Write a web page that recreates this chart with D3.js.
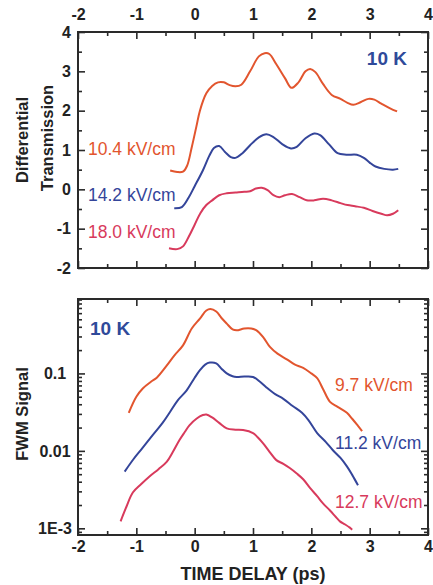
<!DOCTYPE html>
<html>
<head>
<meta charset="utf-8">
<script src="https://cdn.jsdelivr.net/npm/d3@7"></script>
<style>
  html, body { margin: 0; padding: 0; background: #fff; }
  svg { display: block; }
  text { font-family: "Liberation Sans", Arial, Helvetica, sans-serif; }
</style>
</head>
<body>
<script>
// ---------- data ----------
const xTicks = [-2, -1, 0, 1, 2, 3, 4];
const xTickLabels = ["-2", "-1", "0", "1", "2", "3", "4"];
const topYTicks = [-2, -1, 0, 1, 2, 3, 4];
const topYTickLabels = ["-2", "-1", "0", "1", "2", "3", "4"];
const logTicks = [0.001, 0.01, 0.1];
const logTickLabels = ["1E-3", "0.01", "0.1"];

const topLabels = ["10.4 kV/cm", "14.2 kV/cm", "18.0 kV/cm"];
const bottomLabels = ["9.7 kV/cm", "11.2 kV/cm", "12.7 kV/cm"];
const tempLabel = "10 K";

// Differential transmission (time ps, value)
const dt104 = [[-0.42,0.48],[-0.3,0.44],[-0.2,0.45],[-0.13,0.6],[-0.05,1.07],[0.03,1.6],[0.09,2.0],[0.2,2.44],[0.3,2.63],[0.4,2.72],[0.5,2.72],[0.6,2.65],[0.7,2.62],[0.8,2.66],[0.95,3.0],[1.1,3.38],[1.2,3.46],[1.28,3.44],[1.4,3.18],[1.55,2.82],[1.66,2.58],[1.78,2.72],[1.9,3.0],[1.98,3.06],[2.07,2.98],[2.2,2.68],[2.35,2.4],[2.5,2.3],[2.62,2.2],[2.72,2.15],[2.85,2.22],[2.98,2.3],[3.08,2.28],[3.2,2.18],[3.35,2.06],[3.47,1.98]];
const dt142 = [[-0.35,-0.48],[-0.22,-0.45],[-0.1,-0.2],[0.0,0.08],[0.14,0.48],[0.25,0.85],[0.33,1.05],[0.42,1.1],[0.52,0.95],[0.62,0.82],[0.7,0.8],[0.82,0.92],[0.95,1.12],[1.1,1.32],[1.23,1.4],[1.35,1.33],[1.5,1.15],[1.65,1.04],[1.75,1.08],[1.9,1.3],[2.05,1.42],[2.15,1.38],[2.3,1.15],[2.45,0.92],[2.6,0.88],[2.78,0.88],[2.9,0.8],[3.0,0.68],[3.1,0.58],[3.25,0.52],[3.4,0.5],[3.49,0.52]];
const dt180 = [[-0.44,-1.5],[-0.3,-1.52],[-0.2,-1.45],[-0.1,-1.2],[0.0,-0.9],[0.1,-0.6],[0.2,-0.4],[0.3,-0.28],[0.42,-0.15],[0.55,-0.1],[0.7,-0.08],[0.85,-0.06],[0.95,-0.05],[1.05,0.02],[1.15,0.04],[1.25,-0.02],[1.35,-0.15],[1.45,-0.2],[1.55,-0.15],[1.67,-0.12],[1.8,-0.2],[1.92,-0.28],[2.05,-0.28],[2.2,-0.24],[2.35,-0.28],[2.5,-0.35],[2.62,-0.4],[2.75,-0.43],[2.9,-0.47],[3.05,-0.55],[3.2,-0.62],[3.3,-0.66],[3.4,-0.62],[3.49,-0.53]];

// FWM signal (time ps, value)
const fwm97 = [[-1.13,0.031],[-1.0,0.05],[-0.89,0.064],[-0.75,0.078],[-0.65,0.088],[-0.48,0.126],[-0.35,0.17],[-0.2,0.23],[-0.05,0.38],[0.09,0.51],[0.2,0.65],[0.27,0.68],[0.37,0.63],[0.46,0.52],[0.55,0.44],[0.65,0.37],[0.72,0.36],[0.85,0.38],[0.97,0.38],[1.06,0.36],[1.18,0.29],[1.29,0.22],[1.42,0.18],[1.58,0.152],[1.72,0.13],[1.86,0.118],[2.0,0.1],[2.1,0.087],[2.2,0.063],[2.32,0.043],[2.45,0.037],[2.61,0.031],[2.7,0.026],[2.8,0.021],[2.87,0.018]];
const fwm112 = [[-1.2,0.0054],[-1.05,0.0078],[-0.89,0.011],[-0.72,0.016],[-0.55,0.023],[-0.42,0.032],[-0.29,0.045],[-0.14,0.06],[0.0,0.088],[0.09,0.11],[0.18,0.13],[0.26,0.138],[0.37,0.135],[0.46,0.115],[0.55,0.1],[0.65,0.092],[0.72,0.09],[0.85,0.091],[1.0,0.09],[1.12,0.078],[1.23,0.066],[1.38,0.054],[1.52,0.047],[1.68,0.038],[1.84,0.031],[1.95,0.025],[2.1,0.017],[2.25,0.013],[2.37,0.0102],[2.5,0.0081],[2.61,0.0063],[2.7,0.0049],[2.8,0.0036]];
const fwm127 = [[-1.27,0.00123],[-1.17,0.0019],[-1.06,0.0029],[-0.92,0.0037],[-0.77,0.0047],[-0.62,0.0058],[-0.48,0.0072],[-0.37,0.0098],[-0.26,0.0138],[-0.17,0.0175],[-0.09,0.0214],[0.03,0.026],[0.14,0.029],[0.2,0.0295],[0.3,0.027],[0.42,0.023],[0.55,0.0195],[0.7,0.0188],[0.83,0.0186],[1.0,0.017],[1.08,0.015],[1.17,0.0126],[1.28,0.0098],[1.4,0.0076],[1.52,0.0068],[1.63,0.006],[1.75,0.0051],[1.86,0.0043],[1.98,0.0033],[2.1,0.0026],[2.2,0.0021],[2.32,0.0017],[2.42,0.0014],[2.49,0.00123],[2.58,0.00112],[2.66,0.00102],[2.7,0.00096]];

// ---------- styles ----------
const cOrange = "#e2552e", cBlue = "#34459a", cPink = "#d83a5c", cK = "#2f4a9a";
const axisColor = "#2a2a2a";
const W = 433, H = 585;
const tickFont = 16;

const svg = d3.select("body").append("svg").attr("width", W).attr("height", H);

const x = d3.scaleLinear().domain([-2, 4]).range([78, 428]);
const yTop = d3.scaleLinear().domain([-2, 4]).range([268, 32]);
const yBot = d3.scaleLog().domain([0.00082, 0.914]).range([535, 299]);

const halfTicks = d3.range(-2, 4.01, 0.5).filter(v => Math.abs(v - Math.round(v)) > 0.01);
const logMinor = [];
[-4, -3, -2, -1].forEach(e => { for (let m = 2; m <= 9; m++) { const v = m * Math.pow(10, e); if (v >= 0.00082 && v <= 0.914) logMinor.push(v); } });

function styleAxis(g) {
  g.select(".domain").remove();
  g.selectAll("line").attr("stroke", axisColor).attr("stroke-width", 1.6);
  g.selectAll("text").attr("fill", "#222").attr("font-size", tickFont).attr("font-weight", "bold")
    .attr("font-family", "'Liberation Sans', Arial, sans-serif");
}

function drawAxes(yScale, yMajor, yMinor, yLabels, labelTopX, labelBotX, y0, y1, isLog) {
  const fx = (d, i) => xTickLabels[i];
  const gxT = svg.append("g").attr("transform", `translate(0,${y0})`)
    .call(d3.axisTop(x).tickValues(xTicks).tickSize(-7).tickPadding(12).tickFormat(labelTopX ? fx : ""));
  styleAxis(gxT);
  const gxTm = svg.append("g").attr("transform", `translate(0,${y0})`)
    .call(d3.axisTop(x).tickValues(halfTicks).tickSize(-4).tickFormat(""));
  styleAxis(gxTm);
  const gxB = svg.append("g").attr("transform", `translate(0,${y1})`)
    .call(d3.axisBottom(x).tickValues(xTicks).tickSize(-7).tickPadding(6).tickFormat(labelBotX ? fx : ""));
  styleAxis(gxB);
  const gxBm = svg.append("g").attr("transform", `translate(0,${y1})`)
    .call(d3.axisBottom(x).tickValues(halfTicks).tickSize(-4).tickFormat(""));
  styleAxis(gxBm);
  const gyL = svg.append("g").attr("transform", `translate(78,0)`)
    .call(d3.axisLeft(yScale).tickValues(yMajor).tickSize(-7).tickPadding(7).tickFormat((d, i) => yLabels[i]));
  styleAxis(gyL);
  if (isLog) gyL.selectAll("text").attr("text-anchor", "middle").attr("x", 55 - 78);
  const gyLm = svg.append("g").attr("transform", `translate(78,0)`)
    .call(d3.axisLeft(yScale).tickValues(yMinor).tickSize(-4).tickFormat(""));
  styleAxis(gyLm);
  const gyR = svg.append("g").attr("transform", `translate(428,0)`)
    .call(d3.axisRight(yScale).tickValues(yMajor).tickSize(-7).tickFormat(""));
  styleAxis(gyR);
  const gyRm = svg.append("g").attr("transform", `translate(428,0)`)
    .call(d3.axisRight(yScale).tickValues(yMinor).tickSize(-4).tickFormat(""));
  styleAxis(gyRm);
  svg.append("rect").attr("x", 78).attr("y", y0).attr("width", 350).attr("height", y1 - y0)
    .attr("fill", "none").attr("stroke", axisColor).attr("stroke-width", 2);
}

const topHalfY = d3.range(-2, 4.01, 0.5).filter(v => Math.abs(v - Math.round(v)) > 0.01);
drawAxes(yTop, topYTicks, topHalfY, topYTickLabels, true, false, 32, 268, false);
drawAxes(yBot, logTicks, logMinor, logTickLabels, false, true, 299, 535, true);

// ---------- lines ----------
const lineTop = d3.line().x(d => x(d[0])).y(d => yTop(d[1])).curve(d3.curveCatmullRom.alpha(0.5));
const lineBot = d3.line().x(d => x(d[0])).y(d => yBot(d[1])).curve(d3.curveCatmullRom.alpha(0.5));

[[dt104, cOrange], [dt142, cBlue], [dt180, cPink]].forEach(([d, c]) => {
  svg.append("path").datum(d).attr("d", lineTop).attr("fill", "none").attr("stroke", c).attr("stroke-width", 2);
});
[[fwm97, cOrange], [fwm112, cBlue], [fwm127, cPink]].forEach(([d, c]) => {
  svg.append("path").datum(d).attr("d", lineBot).attr("fill", "none").attr("stroke", c).attr("stroke-width", 2);
});

// ---------- labels ----------
const lblColors = [cOrange, cBlue, cPink];
[155, 201, 238].forEach((by, i) => {
  svg.append("text").attr("x", 88).attr("y", by).attr("font-size", 17.5).attr("fill", lblColors[i]).text(topLabels[i]);
});
[391, 449, 508].forEach((by, i) => {
  svg.append("text").attr("x", 335).attr("y", by).attr("font-size", 17.5).attr("fill", lblColors[i]).text(bottomLabels[i]);
});
svg.append("text").attr("x", 407).attr("y", 65).attr("text-anchor", "end").attr("font-size", 19)
  .attr("font-weight", "bold").attr("fill", cK).text(tempLabel);
svg.append("text").attr("x", 90).attr("y", 335).attr("font-size", 19)
  .attr("font-weight", "bold").attr("fill", cK).text(tempLabel);

function rotTitle(txt, bx, cy) {
  svg.append("text").attr("transform", `translate(${bx},${cy}) rotate(-90)`).attr("text-anchor", "middle")
    .attr("font-size", 16.5).attr("font-weight", "bold").attr("fill", "#222").text(txt);
}
rotTitle("Differential", 28, 140);
rotTitle("Transmission", 53, 138);
rotTitle("FWM Signal", 28, 414);
svg.append("text").attr("x", 253).attr("y", 580).attr("text-anchor", "middle").attr("font-size", 18)
  .attr("font-weight", "bold").attr("fill", "#222").text("TIME DELAY (ps)");
</script>
</body>
</html>
